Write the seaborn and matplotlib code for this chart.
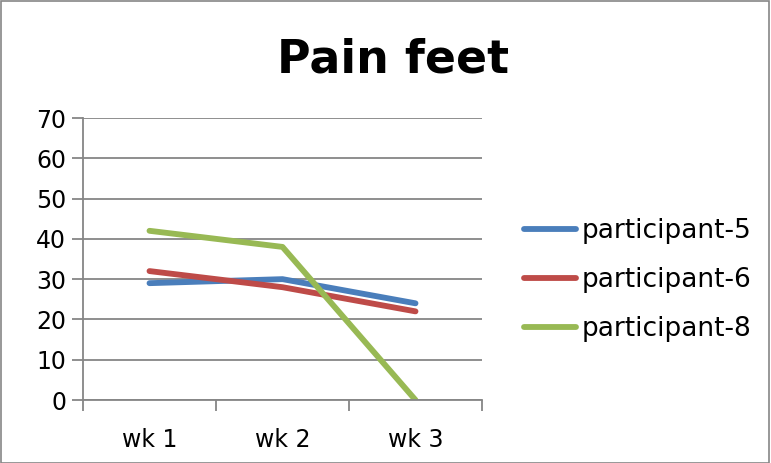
import matplotlib
matplotlib.use("Agg")
import matplotlib.pyplot as plt
import seaborn as sns
import pandas as pd
from matplotlib.ticker import FixedLocator

weeks = ["wk 1", "wk 2", "wk 3"]
participant_5 = [29, 30, 24]
participant_6 = [32, 28, 22]
participant_8 = [42, 38, 0]
series_names = ["participant-5", "participant-6", "participant-8"]
colors = ["#4A7EBB", "#BE4B48", "#98B954"]

df = pd.DataFrame({
    "week": weeks * 3,
    "value": participant_5 + participant_6 + participant_8,
    "series": [series_names[0]] * 3 + [series_names[1]] * 3 + [series_names[2]] * 3,
})

sns.set_theme(style="white")
plt.rcParams["font.family"] = ["DejaVu Sans"]
plt.rcParams["text.color"] = "black"

fig = plt.figure(figsize=(7.71, 4.63), dpi=100)
ax = fig.add_axes([83 / 771, 63 / 463, (482 - 83) / 771, (400 - 118) / 463])

sns.lineplot(data=df, x="week", y="value", hue="series", palette=colors,
             linewidth=4.2, ax=ax, sort=False, legend=True)
for ln in ax.get_lines():
    ln.set_solid_capstyle("round")
    ln.set_solid_joinstyle("round")

ax.set_xlim(-0.5, 2.5)
ax.set_ylim(0, 70)
ax.set_yticks(range(0, 71, 10))
ax.yaxis.grid(True, color="#868686", linewidth=1.3)
ax.set_axisbelow(True)
ax.set_xlabel("")
ax.set_ylabel("")

for s in ["top", "right"]:
    ax.spines[s].set_visible(False)
for s in ["left", "bottom"]:
    ax.spines[s].set_color("#868686")
    ax.spines[s].set_linewidth(1.3)

ax.tick_params(axis="y", which="major", length=8, width=1.3, color="#868686",
               direction="out", labelsize=17, pad=4, left=True, labelcolor="black")
ax.tick_params(axis="x", which="major", length=0, labelsize=17, pad=20, labelcolor="black")
ax.xaxis.set_minor_locator(FixedLocator([-0.5, 0.5, 1.5, 2.5]))
ax.tick_params(axis="x", which="minor", length=8, width=1.3, color="#868686",
               direction="out", bottom=True)

handles, labels = ax.get_legend_handles_labels()
leg = ax.legend(handles, labels, loc="center left", bbox_to_anchor=(1.078, 0.425),
                frameon=False, fontsize=19, handlelength=2.0, handletextpad=0.2,
                labelspacing=0.87, borderaxespad=0)
for t in leg.get_texts():
    t.set_color("black")
for h in leg.legend_handles:
    h.set_linewidth(4.2)
    h.set_solid_capstyle("round")

fig.text(0.51, 0.87, "Pain feet", ha="center", va="center", fontsize=33,
         fontweight="bold", color="black")

border = plt.Rectangle((0.001, 0.001), 0.997, 0.997, transform=fig.transFigure,
                       fill=False, edgecolor="#868686", linewidth=1.2)
fig.patches.append(border)

fig.savefig("out.png", dpi=100)
